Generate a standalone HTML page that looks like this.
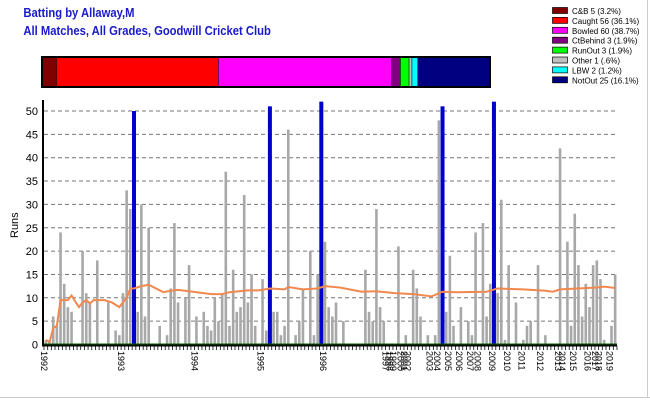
<!DOCTYPE html>
<html><head><meta charset="utf-8"><style>
body{margin:0;background:#fff}
svg{display:block;font-family:"Liberation Sans",sans-serif}
</style></head><body>
<svg width="650" height="400" viewBox="0 0 650 400" id="chart">
<rect x="0" y="0" width="650" height="400" fill="#fff"/>
<line x1="647.5" y1="0" x2="647.5" y2="397" stroke="#ccc"/>
<line x1="0" y1="397.5" x2="650" y2="397.5" stroke="#ccc"/>
<text x="26" y="17" fill="#1a1acc" font-weight="bold" font-size="12.5" transform="scale(0.9,1)">Batting by Allaway,M</text>
<text x="26" y="35" fill="#1a1acc" font-weight="bold" font-size="12.5" transform="scale(0.9,1)">All Matches, All Grades, Goodwill Cricket Club</text>
<g id="stack"></g>
<g id="legend"></g>
<g id="grid"></g>
<g id="bars"></g>
<g id="line"></g>
<g id="axes"></g>
<text x="0" y="0" font-size="11" transform="translate(18,238) rotate(-90)">Runs</text>
</svg>
<script>
const runs=[1,1,6,4,24,13,8,7,0,0,20,11,9,0,18,0,0,9,0,3,2,11,33,29,50,7,30,6,25,0,0,4,0,2,12,26,9,0,10,17,0,6,0,7,4,3,10,5,11,37,4,16,7,8,32,9,15,4,0,14,3,51,7,7,2,4,46,0,2,5,12,0,20,2,15,52,22,8,6,9,0,5,0,0,0,0,0,16,7,5,29,8,5,0,0,0,21,0,2,0,16,12,6,0,2,0,2,48,51,7,19,4,0,8,0,5,2,24,0,26,6,13,52,11,31,1,17,0,9,0,1,4,5,0,17,0,2,0,0,0,42,0,22,4,28,17,6,13,8,17,18,14,1,0,4,15];
const highlight=[24,61,75,108,122];
const avgIdx=[0,1,2,3,4,5,6,7,9,10,11,12,13,16,18,20,22,23,24,26,28,30,32,34,36,40,45,48,50,55,58,61,65,66,70,74,76,80,86,90,95,100,105,108,112,120,123,130,136,138,140,150,152,155];
const avgVal=[1,0.5,3.5,4,9.5,9.5,9.5,10.5,8,9,9.5,8.8,9.5,9.5,9,8,10,12,12,12.5,12.8,12,11.2,11.5,11.7,11.3,10.8,10.8,11.2,11.6,11.6,12,11.8,12.3,11.8,12,12.5,12.2,11.3,11.4,11,10.8,10.3,11.3,11.2,11.3,12,11.8,11.5,11.3,11.8,12.2,12.4,12.1];
const yearLabels=["1992","1993","1994","1995","1996","1997","1998","1999","2000","2001","2002","2003","2004","2005","2006","2007","2008","2009","2010","2011","2012","2013","2014","2015","2016","2017","2018","2019"];
const yearIdx=[0,21,41,59,76,93,94,95,97,98,99,105,107,110,113,116,118,122,126,130,135,140,141,144,148,150,151,154];
const yTicks=[0,5,10,15,20,25,30,35,40,45,50];
const dismissNames=["C&B 5 (3.2%)","Caught 56 (36.1%)","Bowled 60 (38.7%)","CtBehind 3 (1.9%)","RunOut 3 (1.9%)","Other 1 (.6%)","LBW 2 (1.2%)","NotOut 25 (16.1%)"];
const dismissCounts=[5,56,60,3,3,1,2,25];
const dismissColors=["#800000","#ff0000","#ff00ff","#800080","#00ff00","#c0c0c0","#00ffff","#000080"];

const NS="http://www.w3.org/2000/svg";
function mk(tag,attrs,parent){const e=document.createElementNS(NS,tag);for(const k in attrs)e.setAttribute(k,attrs[k]);parent.appendChild(e);return e;}
const X0=44,X1=617,Y0=344.5,PPR=4.67;
const slot=(X1-X0)/runs.length;
const xs=i=>X0+slot*(i+0.5);
const ys=v=>Y0-v*PPR;

// stacked bar
const st=document.getElementById('stack');
const total=dismissCounts.reduce((a,b)=>a+b,0);
let sx=42;const sw=448;
dismissCounts.forEach((c,i)=>{const w=sw*c/total;
 const r=mk('rect',{x:sx,y:57,width:w,height:30,fill:dismissColors[i],stroke:'#000','stroke-width':0.5},st);
 
 
 sx+=w;});
const fr=mk('rect',{x:42,y:57,width:sw,height:30,fill:'none',stroke:'#000','stroke-width':2},st);



// legend
const lg=document.getElementById('legend');
dismissNames.forEach((n,i)=>{const y=7+i*9.9;
 const r=mk('rect',{x:552.5,y:y+0.5,width:15,height:6,fill:dismissColors[i],stroke:'#000','stroke-width':0.7},lg);
 
 
 const t=mk('text',{x:572,y:y+7,'font-size':8,transform:''},lg);t.textContent=n;
 
 });

// grid + y labels
const g=document.getElementById('grid');
yTicks.forEach(v=>{
 if(v>0){const l=mk('line',{x1:X0,x2:X1,y1:ys(v),y2:ys(v),stroke:'#777','stroke-dasharray':'4,3','stroke-width':1},g);
 
 }
 const t=mk('text',{x:38,y:ys(v)+4,'font-size':11,'text-anchor':'end'},g);t.textContent=v;
 
 
});

// bars
const b=document.getElementById('bars');
runs.forEach((v,i)=>{if(v<=0)return;const hl=highlight.includes(i);const w=hl?4:2.6;
 const r=mk('rect',{x:xs(i)-w/2,y:ys(v),width:w,height:Y0-ys(v),fill:hl?'#0000cc':'#a8a8a8'},b);
 
 });
const base=mk('line',{x1:X0,x2:X1,y1:Y0-0.5,y2:Y0-0.5,stroke:'#006400','stroke-width':1},b);



// average line
const ln=document.getElementById('line');
const p=avgIdx.map((ix,k)=>xs(ix)+','+ys(avgVal[k])).join(' ');
const pl=mk('polyline',{points:p,fill:'none',stroke:'#f08850','stroke-width':2},ln);



// axes
const ax=document.getElementById('axes');
const ya=mk('line',{x1:43,x2:43,y1:100,y2:346,stroke:'#000','stroke-width':2},ax);


const xa=mk('line',{x1:42,x2:X1,y1:345.5,y2:345.5,stroke:'#000','stroke-width':2},ax);


for(let i=0;i<=runs.length;i++){const x=X0+slot*i;
 const t=mk('line',{x1:x,x2:x,y1:346,y2:350,stroke:'#000','stroke-width':0.8},ax);
 
 }
yearLabels.forEach((y,k)=>{const x=X0+slot*yearIdx[k]-3;
 const t=mk('text',{x:0,y:0,'font-size':9,transform:'translate('+x+',351) rotate(90)'},ax);t.textContent=y;
 
 });
</script>
</body></html>
